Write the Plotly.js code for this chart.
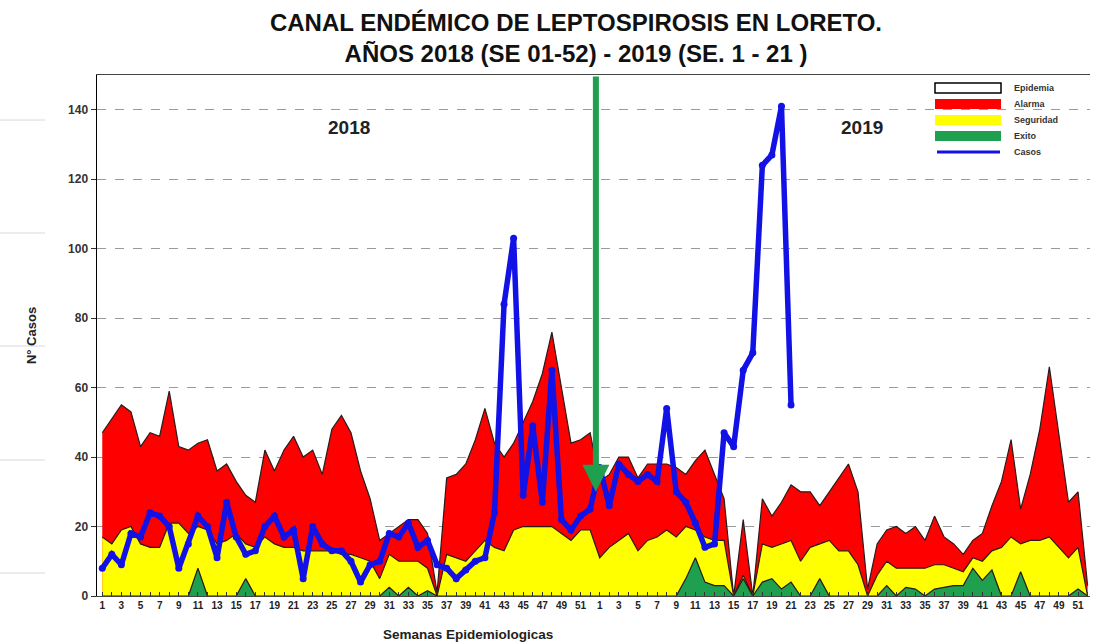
<!DOCTYPE html>
<html>
<head>
<meta charset="utf-8">
<script src="https://cdn.plot.ly/plotly-3.0.1.min.js"></script>
<style>html,body{margin:0;padding:0;background:#fff;}#chart{width:1093px;height:644px;}</style>
</head>
<body>
<div id="chart"></div>
<script>
// ---- Data ----
const anios = [2018, 2019];
const semanas = [1,2,3,4,5,6,7,8,9,10,11,12,13,14,15,16,17,18,19,20,21,22,23,24,25,26,
                 27,28,29,30,31,32,33,34,35,36,37,38,39,40,41,42,43,44,45,46,47,48,49,50,51,52];

// Endemic channel (2018 weeks 1-52 followed by 2019 weeks 1-52)
const alarma = [47,51,55,53,43,47,46,59,43,42,44,45,36,38,33,29,27,42,36,42,46,40,42,35,48,52,
                47,36,28,16,18,20,22,22,18,1,34,35,38,45,54,44,40,44,50,56,64,76,60,44,45,47,
                33,35,40,40,34,38,38,38,37,35,39,42,35,28,0,22,0,28,23,27,32,30,30,26,30,34,
                38,30,2,15,19,20,18,20,16,23,17,15,12,16,18,26,33,45,25,35,48,66,47,27,30,3];
const seguridad = [17,15,19,20,15,14,14,21,21,18,20,19,15,16,18,15,14,17,15,14,14,13,13,13,13,12,
                   12,11,10,5,12,10,10,10,8,0,12,11,10,13,16,14,13,19,20,20,20,20,18,16,19,19,
                   11,14,16,18,13,16,17,19,17,20,19,17,16,16,0,6,0,15,14,15,16,10,14,15,16,13,
                   13,9,0,6,10,8,8,8,8,9,9,8,7,11,10,13,14,17,15,16,16,17,14,11,14,0];
const exito = [0,0,0,0,0,0,0,0,0,0,8,0,0,0,0,5,0,0,0,0,0,0,0,0,0,0,
               0,0,0,0,2.5,0,2.5,0,1.5,0,0,0,0,0,0,0,0,0,0,0,0,0,0,0,0,0,
               0,0,0,0,0,0,0,0,0,5,11,4,3,3,0,5,0,4,5,2,4,0,0,5,0,0,
               0,0,0,0,3,0,2.5,2,0,2,2.5,3,3,8,4.5,7.5,0,0,7,0,0,0,0,0,2,0];
// Cases: 2018 weeks 1-52, 2019 weeks 1-21
const casos = [8,12,9,18,17,24,23,20,8,15,23,20,11,27,17,12,13,20,23,17,19,5,20,15,13,13,
               10,4,9,10,18,17,21,14,16,9,8,5,7.5,10,11,24,84,103,29,49,27,65,22,19,23,25,
               37,26,38,35,33,35,33,54,30,27,21,14,15,47,43,65,70,124,127,141,55];
const nombresSeries = ["Epidemia", "Alarma", "Seguridad", "Exito", "Casos"];
const coloresSeries = ["#ffffff", "#ff0000", "#ffff00", "#1fa04e", "#1212e6"];

// ---- Build categories ----
const categorias = [];
const etiquetas = [];
anios.forEach(a => semanas.forEach(s => {
  categorias.push(a + "-" + s);
  etiquetas.push(s % 2 === 1 ? String(s) : "");
}));
const xCasos = categorias.slice(0, casos.length);

const FONT = "Liberation Sans, Arial, Helvetica, sans-serif";
const outline = {color: "#2a1a1a", width: 1.2};

const traces = [
  {type:"scatter", mode:"lines", name:nombresSeries[1], x:categorias, y:alarma,
   fill:"tozeroy", fillcolor:coloresSeries[1], line:outline},
  {type:"scatter", mode:"lines", name:nombresSeries[2], x:categorias, y:seguridad,
   fill:"tozeroy", fillcolor:coloresSeries[2], line:outline},
  {type:"scatter", mode:"lines", name:nombresSeries[3], x:categorias, y:exito,
   fill:"tozeroy", fillcolor:coloresSeries[3], line:outline},
  {type:"scatter", mode:"lines+markers", name:nombresSeries[4], x:xCasos, y:casos,
   line:{color:coloresSeries[4], width:5.5}, marker:{color:coloresSeries[4], size:7}}
];

// helpers: pixel -> paper
const PX = px => (px - 97) / 993;
const PY = py => (596 - py) / 521;

const shapes = [120, 233, 346, 460, 573].map(py => ({
  type:"line", xref:"paper", yref:"paper", x0:PX(0), x1:PX(45),
  y0:PY(py), y1:PY(py), line:{color:"#d8d8d8", width:1}
}));

// Manual legend (top right, inside plot)
const legendAnn = [];
nombresSeries.forEach((n, k) => {
  const cy = 88 + 16 * k;
  if (k < 4) {
    shapes.push({type:"rect", xref:"paper", yref:"paper",
      x0:PX(935), x1:PX(1001), y0:PY(cy + 5), y1:PY(cy - 5),
      fillcolor:coloresSeries[k],
      line:{color: k === 0 ? "#000" : coloresSeries[k], width: k === 0 ? 1.5 : 0}});
  } else {
    shapes.push({type:"line", xref:"paper", yref:"paper",
      x0:PX(937), x1:PX(1000), y0:PY(cy), y1:PY(cy),
      line:{color:coloresSeries[k], width:3}});
  }
  legendAnn.push({text:n, xref:"paper", yref:"paper", x:PX(1012), y:PY(cy),
    xanchor:"left", yanchor:"middle", showarrow:false,
    font:{family:FONT, size:9, weight:"bold", color:"#333"}});
});

const layout = {
  width:1093, height:644,
  margin:{l:97, r:3, t:75, b:48},
  paper_bgcolor:"#fff", plot_bgcolor:"#fff",
  font:{family:FONT, color:"#222"},
  title:{
    text:"CANAL ENDÉMICO DE LEPTOSPIROSIS EN LORETO.<br>AÑOS 2018 (SE 01-52) - 2019 (SE. 1 - 21 )",
    font:{family:FONT, size:24, weight:"bold", color:"#111"},
    x:576/1093, xanchor:"center", xref:"container",
    y:0.952, yanchor:"top", yref:"container"
  },
  showlegend:false,
  xaxis:{
    type:"category", categoryorder:"array", categoryarray:categorias,
    range:[-0.55, 103.25], tickmode:"array", tickvals:categorias, ticktext:etiquetas,
    ticks:"inside", ticklen:4, tickcolor:"#333", tickangle:0,
    tickfont:{family:FONT, size:10, weight:"bold", color:"#222"},
    showline:true, linecolor:"#444", linewidth:1, mirror:true,
    showgrid:false, zeroline:false, fixedrange:true
  },
  yaxis:{
    range:[0,150], tickmode:"array", tickvals:[0,20,40,60,80,100,120,140],
    ticks:"outside", ticklen:5, tickcolor:"#333",
    tickfont:{family:FONT, size:12, weight:"bold", color:"#333"},
    showline:true, linecolor:"#000", linewidth:1.5,
    showgrid:true, gridcolor:"#9a9a9a", griddash:"dash", gridwidth:1,
    zeroline:false,
    title:{text:"N° Casos", font:{family:FONT, size:13, weight:"bold", color:"#222"}, standoff:28}
  },
  shapes: shapes,
  annotations:[
    {text:String(anios[0]), xref:"paper", yref:"paper", x:PX(349), y:PY(127),
     xanchor:"center", yanchor:"middle", showarrow:false,
     font:{family:FONT, size:19, weight:"bold", color:"#222"}},
    {text:String(anios[1]), xref:"paper", yref:"paper", x:PX(862), y:PY(127),
     xanchor:"center", yanchor:"middle", showarrow:false,
     font:{family:FONT, size:19, weight:"bold", color:"#222"}},
    {text:"Semanas Epidemiologicas", xref:"paper", yref:"paper", x:PX(468), y:PY(634),
     xanchor:"center", yanchor:"middle", showarrow:false,
     font:{family:FONT, size:13.5, weight:"bold", color:"#222"}},
    {text:"", x:51.6, y:30, xref:"x", yref:"y", axref:"x", ayref:"y", ax:51.6, ay:150,
     showarrow:true, arrowhead:2, arrowsize:0.9, arrowwidth:6, arrowcolor:"#1fa04e", standoff:0}
  ].concat(legendAnn)
};

Plotly.newPlot("chart", traces, layout, {displayModeBar:false, staticPlot:true});
</script>
</body>
</html>
